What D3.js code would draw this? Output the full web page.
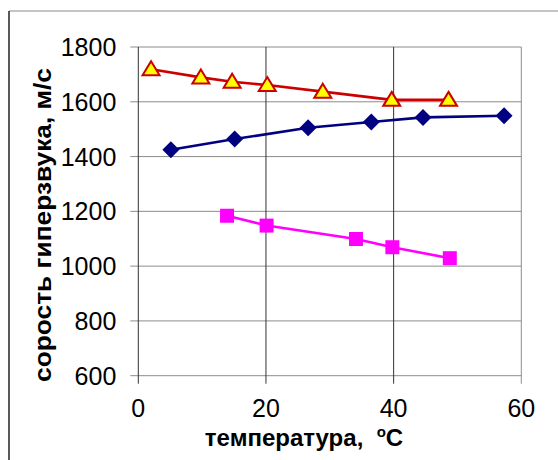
<!DOCTYPE html>
<html><head><meta charset="utf-8">
<script src="https://cdn.jsdelivr.net/npm/d3@7"></script>
<style>body{margin:0;background:#fff}svg{display:block}</style>
</head><body>
<script>
// Data
const xTicks = [0, 20, 40, 60];
const yTicks = [600, 800, 1000, 1200, 1400, 1600, 1800];
const triX = [2.0, 9.8, 14.7, 20.2, 28.9, 39.7, 48.6];
const triY = [1719, 1689, 1673, 1661, 1637, 1607, 1607];
const diaX = [5.1, 15.1, 26.6, 36.5, 44.6, 57.3];
const diaY = [1425, 1464, 1505, 1526, 1543, 1549];
const sqX = [13.9, 20.1, 34.1, 39.8, 48.8];
const sqY = [1184, 1148, 1099, 1069, 1029];
const xTitle = "температура,  ";
const yTitle = "сорость гиперзвука, м/с";

const W = 558, H = 460;
const m = {l: 138.3, r: 558 - 521.3, t: 47, b: 460 - 375.7};
const svg = d3.select("body").append("svg").attr("width", W).attr("height", H);
const x = d3.scaleLinear().domain([0, 60]).range([m.l, W - m.r]);
const y = d3.scaleLinear().domain([600, 1800]).range([H - m.b, m.t]);
const font = "'Liberation Sans', Arial, sans-serif";

// outer frame (top and left)
svg.append("line").attr("x1", 9).attr("x2", W).attr("y1", 11).attr("y2", 11).attr("stroke", "#8a8a8a").attr("stroke-width", 1.2);
svg.append("line").attr("x1", 9).attr("x2", 9).attr("y1", 11).attr("y2", H).attr("stroke", "#222").attr("stroke-width", 1.5);

// gridlines
const g = svg.append("g");
g.selectAll(".hg").data(yTicks).join("line")
  .attr("x1", x(0) - 8).attr("x2", x(60)).attr("y1", d => y(d)).attr("y2", d => y(d))
  .attr("stroke", "#8c8c8c").attr("stroke-width", 1);
g.selectAll(".vg").data(xTicks).join("line")
  .attr("x1", d => x(d)).attr("x2", d => x(d)).attr("y1", y(1800)).attr("y2", y(600) + 8)
  .attr("stroke", d => d === 60 ? "#8c8c8c" : "#333").attr("stroke-width", 1);

// tick labels
svg.append("g").selectAll("text").data(yTicks).join("text")
  .attr("x", x(0) - 22).attr("y", d => y(d)).attr("dy", "0.36em")
  .attr("text-anchor", "end").attr("font-family", font).attr("font-size", 25)
  .text(d => d);
svg.append("g").selectAll("text").data(xTicks).join("text")
  .attr("x", d => x(d)).attr("y", 417)
  .attr("text-anchor", "middle").attr("font-family", font).attr("font-size", 25)
  .text(d => d);

// axis titles
const xt = svg.append("text").attr("x", 304).attr("y", 446).attr("text-anchor", "middle")
  .attr("font-family", font).attr("font-size", 24).attr("font-weight", "bold")
  .attr("xml:space", "preserve");
xt.append("tspan").text(xTitle);
xt.append("tspan").attr("font-size", 15).attr("dy", -9).text("o");
xt.append("tspan").attr("dy", 9).text("C");

svg.append("text").attr("transform", `translate(51,225) rotate(-90)`)
  .attr("text-anchor", "middle").attr("font-family", font).attr("font-size", 23).attr("font-weight", "bold")
  .attr("textLength", 314).attr("lengthAdjust", "spacingAndGlyphs")
  .text(yTitle);

// series
const line = d3.line().x(d => x(d[0])).y(d => y(d[1]));
function series(xs, ys, color, symbol, fill, stroke, sw) {
  const pts = xs.map((v, i) => [v, ys[i]]);
  svg.append("path").datum(pts).attr("d", line).attr("fill", "none").attr("stroke", color).attr("stroke-width", 2.6);
  svg.append("g").selectAll("path").data(pts).join("path")
    .attr("transform", d => `translate(${x(d[0])},${y(d[1])})`)
    .attr("d", symbol)
    .attr("fill", fill).attr("stroke", stroke).attr("stroke-width", sw);
}
const tri = "M0,-8 L8.5,6 L-8.5,6 Z";
const dia = "M0,-8.5 L8.5,0 L0,8.5 L-8.5,0 Z";
const sq = "M-7,-7 L7,-7 L7,7 L-7,7 Z";
series(triX, triY, "#cc0000", tri, "#ffff00", "#cc0000", 2);
series(diaX, diaY, "#000080", dia, "#000080", "none", 0);
series(sqX, sqY, "#ff00ff", sq, "#ff00ff", "none", 0);
</script>
</body></html>
